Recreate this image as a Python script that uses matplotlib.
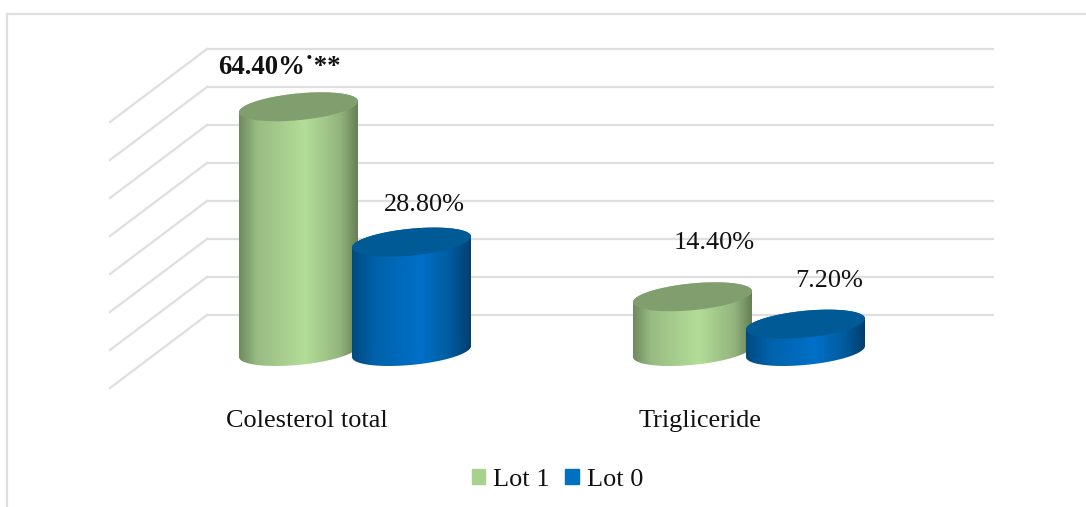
import numpy as np
import matplotlib
matplotlib.use('Agg')
import matplotlib.pyplot as plt
from matplotlib.colors import LinearSegmentedColormap
from matplotlib.patches import Patch, Polygon

categories = ['Colesterol total', 'Trigliceride']
series_names = ['Lot 1', 'Lot 0']
lot1 = [64.4, 14.4]
lot0 = [28.8, 7.2]
grid_values = [0, 10, 20, 30, 40, 50, 60, 70]

W, H = 1086, 507
plt.rcParams['font.family'] = ['Liberation Serif', 'DejaVu Serif']
FS = 18.9
GRID = '#dfdfdf'

# 1 category = 394 px, 1 percent = 3.8 px
x_px = 394.0
y_px = 3.8
x0_px = 355.0
y0_px = 315.0

fig = plt.figure(figsize=(W / 100, H / 100), dpi=100)
ax = fig.add_axes([0, 0, 1, 1])
ax.set_axis_off()


def dx(px):
    return (px - x0_px) / x_px


# grid: back wall + side wall
for v in grid_values:
    ax.plot([dx(207), dx(993)], [v, v], color=GRID, lw=1.6, zorder=1)
    ax.plot([dx(110), dx(207)], [v - 73 / y_px, v], color=GRID, lw=1.6, zorder=1)

green_cm = LinearSegmentedColormap.from_list('g', [(0, '#6f8a5f'), (0.15, '#98bb82'), (0.55, '#b3dd98'),
                                                   (0.85, '#93b57d'), (1, '#667f56')])
blue_cm = LinearSegmentedColormap.from_list('b', [(0, '#004a80'), (0.2, '#0062ab'), (0.58, '#0070c8'),
                                                  (0.82, '#005c9f'), (1, '#003f6e')])
a = 59.5 / x_px
b = 13.4 / y_px
s = 5.5 / y_px
base = -36.5 / y_px
offset = 56.5 / x_px


def cylinder(cx, value, cmap, top_color, z):
    t1 = np.linspace(np.pi, 0, 80)
    t2 = np.linspace(0, -np.pi, 80)
    top = value + base
    upper = np.c_[cx + a * np.cos(t1), top + b * np.sin(t1) + s * np.cos(t1)]
    lower = np.c_[cx + a * np.cos(t2), base + b * np.sin(t2) + s * np.cos(t2)]
    body = Polygon(np.r_[upper, lower], closed=True, fc='none', ec='none', zorder=z)
    ax.add_patch(body)
    im = ax.imshow(np.linspace(0, 1, 256)[None, :], cmap=cmap, aspect='auto', zorder=z,
                   extent=[cx - a, cx + a, base - 2 * b, top + 2 * b])
    im.set_clip_path(body)
    t = np.linspace(0, 2 * np.pi, 160)
    ax.fill(cx + a * np.cos(t), top + b * np.sin(t) + s * np.cos(t), color=top_color, lw=0, zorder=z + 0.1)


for i in range(len(categories)):
    cylinder(i - offset, lot1[i], green_cm, '#819f6e', 3 + 2 * i)
    cylinder(i + offset, lot0[i], blue_cm, '#005a96', 4 + 2 * i)

ax.set_xlim(dx(0), dx(W))
ax.set_ylim((y0_px - H) / y_px, y0_px / y_px)

# chart frame, only top and left show
fig.add_artist(plt.Line2D([7 / W, 7 / W], [0, 1 - 14 / H], color=GRID, lw=1.6))
fig.add_artist(plt.Line2D([7 / W, 1], [1 - 14 / H, 1 - 14 / H], color=GRID, lw=1.6))


def label(x, y, text, size=FS, **kw):
    fig.text(x / W, 1 - y / H, text, fontsize=size, color='#111111', va='center', **kw)


label(218, 68, '64.40%\u02d9**', size=19.3, ha='left', fontweight='bold')
label(424, 205, '%.2f%%' % lot0[0], ha='center')
label(714, 243, '%.2f%%' % lot1[1], ha='center')
label(829, 281, '%.2f%%' % lot0[1], ha='center')
label(307, 421, categories[0], ha='center')
label(700, 421, categories[1], ha='center')

handles = [Patch(color='#a9d18e', label=series_names[0]), Patch(color='#0070c0', label=series_names[1])]
ax.legend(handles=handles, loc='center', bbox_to_anchor=(557.5 / W, 1 - 480 / H), ncol=2, frameon=False,
          fontsize=FS, handlelength=0.52, handleheight=0.52, handletextpad=0.3, columnspacing=0.6,
          labelcolor='#111111')

fig.savefig('out.png', dpi=100)
